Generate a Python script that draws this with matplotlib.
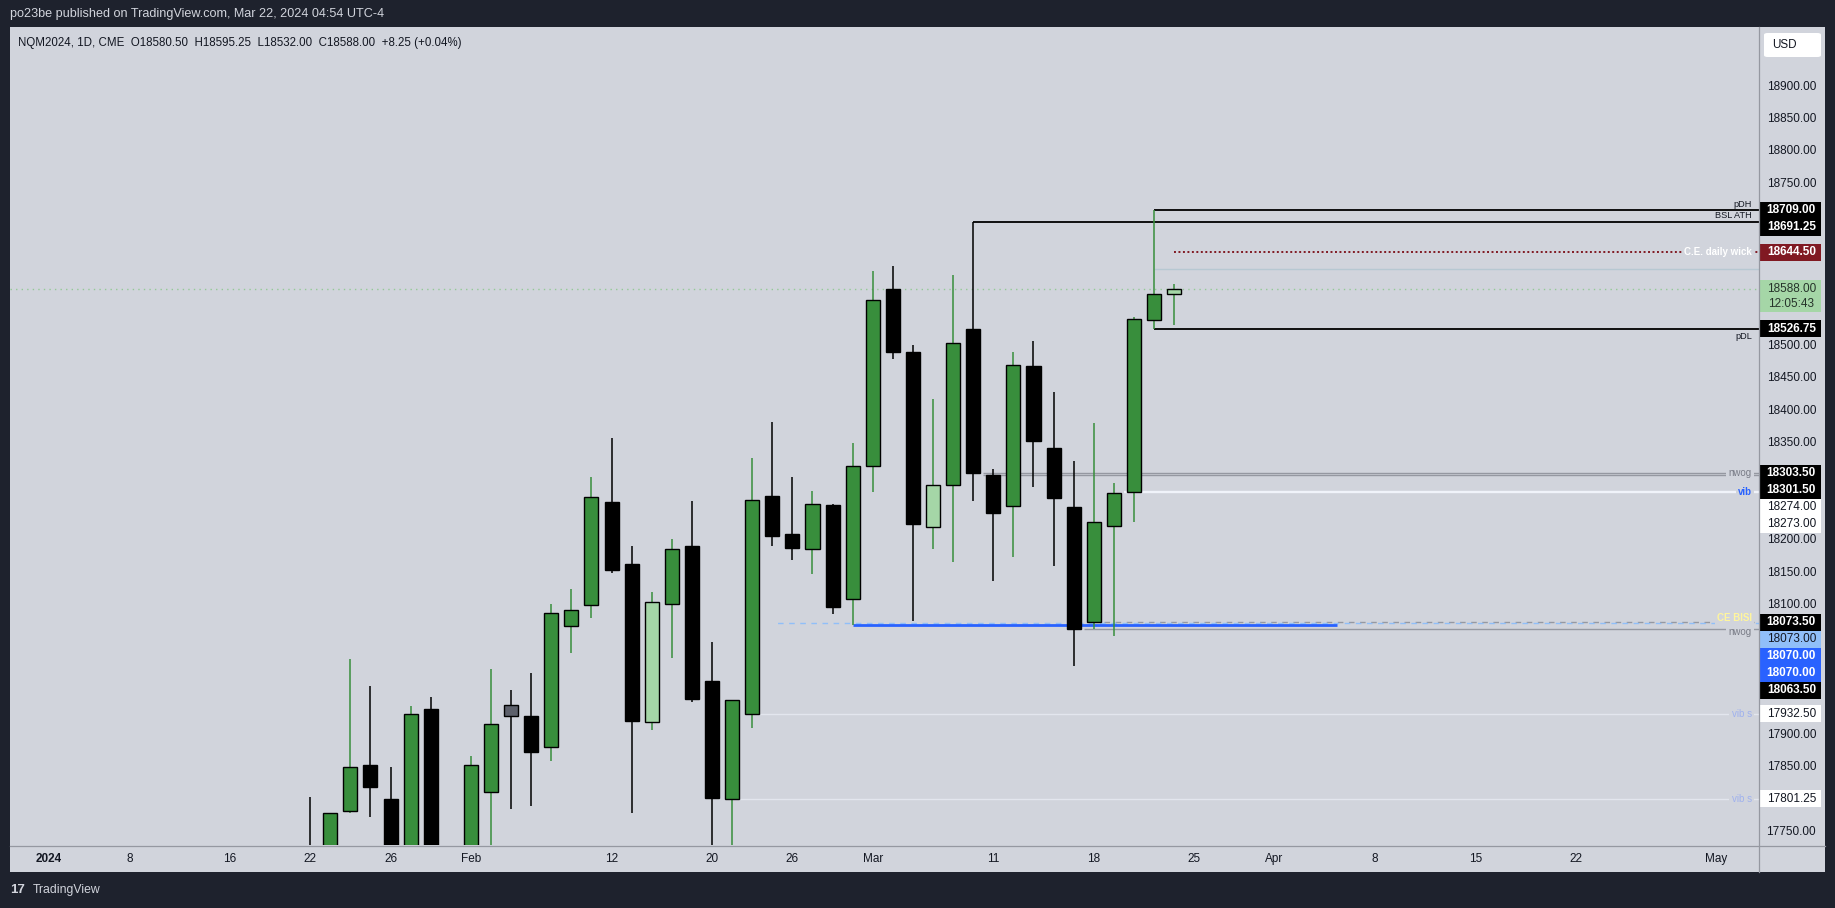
import numpy as np
import matplotlib
matplotlib.use('Agg')
import matplotlib.pyplot as plt
from matplotlib.patches import Rectangle, FancyBboxPatch
from matplotlib.lines import Line2D

plt.rcParams['font.family'] = ['Liberation Sans', 'DejaVu Sans']

W, H = 1835, 908
BG = '#d1d4dc'
DARK = '#1e222d'
AXC = '#9598a1'
TXT = '#131722'
GREEN = '#388e3c'
LIGHT = '#a5d6a7'

# daily bars, x = trading-day index (0 = 2 Jan 2024)
bar_idx = list(range(13, 57))
opens = [17712, 17680, 17782.5, 17853, 17801.5, 17700, 17940, 17700, 17480, 17812,
         17946, 17929, 17881, 18068, 18100, 18259.5, 18164, 17920, 18102, 18191,
         17983, 17801, 17932, 18268, 18209.5, 18186.5, 18254.5, 18109, 18315, 18587,
         18490, 18220, 18285, 18526, 18301.5, 18253, 18469, 18342.5, 18251, 18073.5,
         18222, 18274, 18540, 18580.5]
highs = [17805, 17780, 18017, 17975, 17851, 17944, 17959, 17725, 17868, 18002,
         17969.5, 17995, 18102, 18125, 18298, 18358, 18192, 18121, 18202, 18261,
         18044, 17954, 18327, 18383, 18298, 18276, 18256, 18350, 18616, 18623,
         18502, 18418.5, 18610, 18691.25, 18310.5, 18490.5, 18508, 18429, 18323, 18381,
         18289, 18544, 18709, 18595.25]
lows = [17600, 17640, 17780, 17774, 17640, 17680, 17690, 17420, 17440, 17700,
        17785.5, 17791, 17860.5, 18027, 18081, 18149, 17780, 17907, 18019, 17950,
        17690, 17700, 17911, 18192, 18169, 18148, 18087, 18070, 18274, 18480,
        18075, 18186, 18166, 18261.5, 18138, 18175, 18283, 18161, 18007, 18063,
        18053, 18228, 18526.75, 18532]
closes = [17655, 17779, 17851, 17819, 17705, 17932, 17700, 17440, 17853, 17917,
          17929, 17874, 18088, 18092.5, 18267, 18155, 17922, 18105, 18186.5, 17956,
          17802, 17954, 18262, 18206, 18189, 18255.5, 18098, 18315, 18571, 18491,
          18226, 18285, 18504, 18303.5, 18243, 18470, 18354, 18266, 18063.5, 18228,
          18273, 18541, 18580, 18588]
# bars painted with a custom colour on the chart
marked_bars = {23: '#5d606b', 30: LIGHT, 44: LIGHT, 56: LIGHT}

time_tick_idx = [0, 4, 9, 13, 17, 21, 28, 33, 37, 41, 47, 52, 57, 61, 66, 71, 76, 83]
time_tick_lbl = ['2024', '8', '16', '22', '26', 'Feb', '12', '20', '26', 'Mar',
                 '11', '18', '25', 'Apr', '8', '15', '22', 'May']
price_ticks = [17750, 17800, 17850, 17900, 17950, 18000, 18050, 18100, 18150, 18200,
               18250, 18300, 18350, 18400, 18450, 18500, 18550, 18600, 18650, 18700,
               18750, 18800, 18850, 18900]

# drawn levels (horizontal rays)
lvl_price = [18709.00, 18691.25, 18644.50, 18618.75, 18588.00, 18526.75, 18303.50, 18301.50,
             18274.00, 18073.50, 18073.00, 18070.00, 18063.50, 17932.50, 17801.25]
lvl_from = [55, 46, 56, 55, -2, 55, 46.5, 46.5, 53.5, 52.5, 36, 40, 51.5, 35.4, 34.4]
lvl_to = [90, 90, 90, 90, 90, 90, 90, 90, 90, 90, 90, 64.1, 90, 90, 90]
lvl_text = ['pDH', 'BSL ATH', 'C.E. daily wick', '', '', 'pDL', 'nwog', '', 'vib', '',
            'CE BISI', '', 'nwog', 'vib s', 'vib s']
lvl_kind = ['pdh', 'pdh', 'ce', 'faint', 'last', 'pdl', 'nwog', 'nwog', 'vib', 'nwogd',
            'bisi', 'blue', 'nwog2', 'vibs', 'vibs']

# price-scale tags
tag_price = [18709.00, 18691.25, 18644.50, 18588.00, 18526.75, 18303.50, 18301.50, 18274.00,
             18273.00, 18073.50, 18073.00, 18070.00, 18070.00, 18063.50, 17932.50, 17801.25]
tag_kind = ['k', 'k', 'ce', 'last', 'k', 'k', 'k', 'w', 'w', 'k', 'lb', 'b', 'b', 'k', 'w', 'w']
countdown = '12:05:43'

line_style = {
    'pdh': dict(color='black', lw=1.3, ls='-'),
    'pdl': dict(color='black', lw=1.3, ls='-'),
    'ce': dict(color='#801922', lw=1.4, ls=(0, (1, 1.3))),
    'faint': dict(color='#b7c8d2', lw=1.0, ls='-'),
    'last': dict(color='#93c995', lw=1.0, ls=(0, (1, 3))),
    'nwog': dict(color=AXC, lw=1.0, ls='-'),
    'nwog2': dict(color=AXC, lw=1.0, ls='-'),
    'nwogd': dict(color=AXC, lw=1.0, ls=(0, (4, 4))),
    'vib': dict(color='#f0f3fa', lw=1.7, ls='-'),
    'bisi': dict(color='#90bff9', lw=1.0, ls=(4, (4, 4))),
    'blue': dict(color='#2962ff', lw=2.0, ls='-'),
    'vibs': dict(color='#e3e6ee', lw=1.0, ls='-'),
}
# label colour, weight and vertical nudge (points) off its line
label_style = {
    'pdh': dict(color=TXT, weight='normal', dy=2.5, va='baseline', box=False),
    'pdl': dict(color=TXT, weight='normal', dy=-2.5, va='top', box=False),
    'ce': dict(color='white', weight='bold', dy=0, va='center', box=True),
    'nwog': dict(color='#787b86', weight='normal', dy=0, va='center', box=True),
    'nwog2': dict(color='#787b86', weight='normal', dy=-2.2, va='center', box=True),
    'vib': dict(color='#2962ff', weight='bold', dy=0, va='center', box=True),
    'bisi': dict(color='#fff59d', weight='bold', dy=3.2, va='center', box=True),
    'vibs': dict(color='#9fb1ee', weight='normal', dy=0, va='center', box=True),
}
tag_style = {
    'k': ('black', 'white', 'bold'),
    'ce': ('#801922', 'white', 'bold'),
    'last': (LIGHT, '#26332a', 'normal'),
    'w': ('white', TXT, 'normal'),
    'lb': ('#90bff9', TXT, 'normal'),
    'b': ('#2962ff', 'white', 'bold'),
}

XMIN, XMAX = -1.94, 85.11
YMIN, YMAX = 17730.2, 18991.8


def frac(x0, y0, x1, y1):
    return [x0 / W, 1 - y1 / H, (x1 - x0) / W, (y1 - y0) / H]


fig = plt.figure(figsize=(W / 100, H / 100), dpi=100, facecolor=DARK)
fig.patches.append(Rectangle((10 / W, 1 - 872 / H), 1815 / W, 845 / H, transform=fig.transFigure,
                             facecolor=BG, edgecolor='none', zorder=-10))

ax = fig.add_axes(frac(10, 27, 1759, 845))
ax_price = fig.add_axes(frac(1759, 27, 1825, 845))
ax_time = fig.add_axes(frac(10, 845, 1759, 872))
for a in (ax, ax_price, ax_time):
    a.set_facecolor('none')
    a.set_axis_off()
ax.set_xlim(XMIN, XMAX)
ax.set_ylim(YMIN, YMAX)
ax_price.set_xlim(0, 1)
ax_price.set_ylim(YMIN, YMAX)
ax_time.set_xlim(XMIN, XMAX)
ax_time.set_ylim(0, 1)

fig.add_artist(Line2D([1759 / W] * 2, [1 - 27 / H, 1 - 872 / H], transform=fig.transFigure, color=AXC, lw=0.9))
fig.add_artist(Line2D([10 / W, 1825 / W], [1 - 845.5 / H] * 2, transform=fig.transFigure, color=AXC, lw=0.9))

# candles
o = np.array(opens)
c = np.array(closes)
x = np.array(bar_idx)
up = c >= o
body_col = [marked_bars.get(i, GREEN if u else 'black') for i, u in zip(bar_idx, up)]
wick_col = [GREEN if u else 'black' for u in up]
ax.vlines(x, lows, highs, colors=wick_col, lw=1.1, zorder=3)
ax.bar(x, np.abs(c - o), bottom=np.minimum(o, c), width=0.7, color=body_col,
       edgecolor='black', linewidth=1.0, zorder=4)

# levels and their labels
yax = ax.get_yaxis_transform()
for p, x0, x1, txt, kind in zip(lvl_price, lvl_from, lvl_to, lvl_text, lvl_kind):
    st = line_style[kind]
    ax.plot([max(x0, XMIN), min(x1, XMAX)], [p, p], color=st['color'], lw=st['lw'],
            ls=st['ls'], zorder=2, solid_capstyle='butt')
    if not txt:
        continue
    ls_ = label_style[kind]
    box = dict(boxstyle='square,pad=0.25', fc=BG, ec='none') if ls_['box'] else None
    ax.annotate(txt, (0.996, p), xycoords=yax, xytext=(0, ls_['dy']), textcoords='offset points',
                ha='right', va=ls_['va'], fontsize=6.6 if not ls_['box'] else 7,
                color=ls_['color'], fontweight=ls_['weight'], zorder=6, bbox=box)

# header texts
fig.text(10 / W, 1 - 14 / H, 'po23be published on TradingView.com, Mar 22, 2024 04:54 UTC-4',
         color=BG, fontsize=9.1, va='center', ha='left')
ax.text(8.5 / 1749, 1 - 16 / 818, 'NQM2024, 1D, CME  O18580.50  H18595.25  L18532.00  C18588.00  +8.25 (+0.04%)',
        transform=ax.transAxes, color=TXT, fontsize=8.3, va='center', ha='left')
fig.text(10 / W, 1 - 890 / H, '17', color=BG, fontsize=9.5, fontweight='heavy', va='center', ha='left')
fig.text(33 / W, 1 - 890 / H, 'TradingView', color=BG, fontsize=8.8, va='center', ha='left')

# USD box
fig.patches.append(FancyBboxPatch((1764 / W, 1 - 57 / H), 57 / W, 24 / H, transform=fig.transFigure,
                                  boxstyle='round,pad=0,rounding_size=0.002', facecolor='white',
                                  edgecolor='none', zorder=5))
fig.text(1772 / W, 1 - 45 / H, 'USD', color=TXT, fontsize=8.4, va='center', ha='left', zorder=6)

# price-scale tags, pushed apart so they do not overlap
pyax = ax_price.get_yaxis_transform()
ppu = ax.transData.transform((0, 1))[1] - ax.transData.transform((0, 0))[1]
tag_boxes = []
prev_bottom = np.inf
for p, kind in zip(tag_price, tag_kind):
    above = 8.5 / ppu
    below = (23.0 if kind == 'last' else 8.5) / ppu
    top = min(p + above, prev_bottom)
    cy = top - above
    prev_bottom = cy - below
    tag_boxes.append((cy - below, top))
    bg, fg, wt = tag_style[kind]
    ax_price.add_patch(Rectangle((0, cy - below), 62 / 66, above + below, transform=pyax,
                                 facecolor=bg, edgecolor='none', zorder=5))
    ax_price.text(0.49, cy, f'{p:.2f}', transform=pyax, ha='center', va='center',
                  fontsize=8.5, color=fg, fontweight=wt, zorder=6)
    if kind == 'last':
        ax_price.text(0.49, cy - 15 / ppu, countdown, transform=pyax, ha='center', va='center',
                      fontsize=8.5, color=fg, zorder=6)

# price scale ticks (those hidden under a tag are left out)
half = 5.5 / ppu
for t in price_ticks:
    if any(b - half < t < tp + half for b, tp in tag_boxes):
        continue
    ax_price.text(0.49, t, f'{t:.2f}', transform=pyax, ha='center', va='center',
                  fontsize=8.5, color=TXT, zorder=2)

# time scale
txax = ax_time.get_xaxis_transform()
for i, lbl in zip(time_tick_idx, time_tick_lbl):
    ax_time.text(i, 0.48, lbl, transform=txax, ha='center', va='center', fontsize=8.5,
                 color=TXT, fontweight='bold' if lbl == '2024' else 'normal')

fig.savefig('out.png', dpi=100, facecolor=fig.get_facecolor())
